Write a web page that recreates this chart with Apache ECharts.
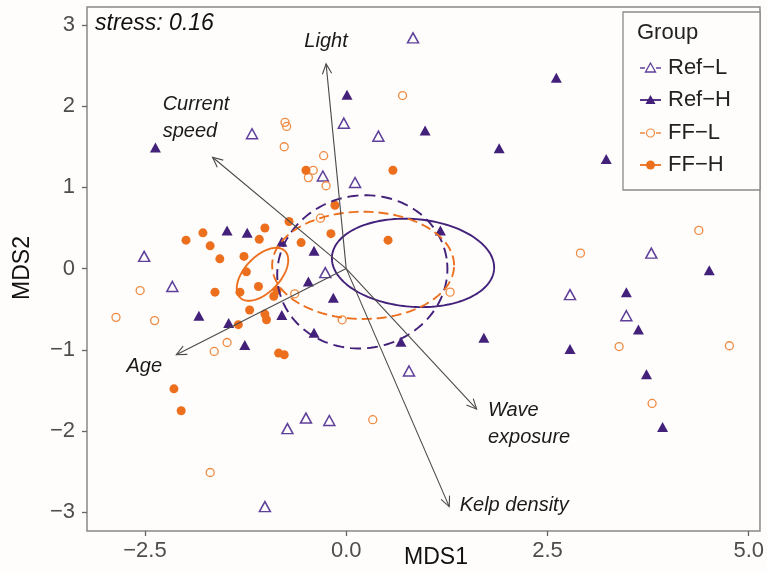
<!DOCTYPE html>
<html><head><meta charset="utf-8">
<script src="https://cdn.jsdelivr.net/npm/echarts@6/dist/echarts.min.js"></script>
<style>html,body{margin:0;padding:0;background:#fefdfb}#c{width:767px;height:572px}</style>
</head><body><div id="c"></div>
<script>
// ---- data ----
const groups = ['Ref-L', 'Ref-H', 'FF-L', 'FF-H'];
const refL = [[0.83,2.84],[-1.17,1.66],[-0.03,1.79],[0.40,1.63],[-0.29,1.14],[0.11,1.06],[-2.51,0.15],[-2.16,-0.22],[-0.26,-0.05],[0.78,-1.26],[2.78,-0.32],[3.79,0.19],[3.48,-0.58],[-0.73,-1.97],[-1.01,-2.93],[-0.50,-1.84],[-0.21,-1.87]];
const refH = [[-2.37,1.49],[0.01,2.14],[0.98,1.70],[1.90,1.48],[2.61,2.35],[3.23,1.35],[-1.48,0.47],[-1.23,0.44],[-0.80,0.33],[-1.83,-0.58],[-1.46,-0.67],[-1.26,-0.94],[-0.80,-0.57],[-0.40,0.22],[-0.47,-0.16],[-0.16,-0.36],[-0.40,-0.79],[1.17,0.47],[0.68,-0.90],[1.71,-0.85],[2.78,-0.99],[4.51,-0.02],[3.48,-0.29],[3.63,-0.75],[3.73,-1.30],[3.93,-1.95]];
const ffL = [[-0.76,1.80],[-0.74,1.75],[-0.77,1.50],[0.70,2.13],[-0.28,1.39],[-0.41,1.21],[-0.47,1.12],[-0.25,1.02],[-0.32,0.62],[1.29,-0.29],[-0.05,-0.63],[4.38,0.47],[2.91,0.19],[3.39,-0.96],[4.76,-0.95],[3.80,-1.66],[-2.56,-0.27],[-2.86,-0.60],[-2.38,-0.64],[-1.64,-1.02],[-1.48,-0.91],[-1.69,-2.51],[0.33,-1.86],[-0.64,-0.31]];
const ffH = [[-1.99,0.35],[-1.78,0.44],[-1.69,0.28],[-1.57,0.12],[-1.01,0.50],[-1.08,0.36],[-1.27,0.15],[-1.24,-0.04],[-1.09,-0.22],[-1.32,-0.29],[-1.63,-0.29],[-0.90,-0.34],[-0.86,-0.27],[-1.20,-0.51],[-1.01,-0.56],[-0.99,-0.63],[-1.34,-0.69],[-0.84,-1.04],[-0.77,-1.06],[-0.71,0.58],[-0.56,0.32],[-0.19,0.43],[-0.14,0.78],[0.52,0.35],[-0.50,1.21],[0.58,1.21],[-2.14,-1.48],[-2.05,-1.75]];

const vectorNames = ['Light', 'Current\nspeed', 'Age', 'Wave\nexposure', 'Kelp density'];
const vectorEnds = [[-0.25,2.52],[-1.66,1.37],[-2.11,-1.06],[1.62,-1.73],[1.28,-2.93]];

const ellipseGroups = ['Ref-L', 'Ref-H', 'FF-L', 'FF-H'];
const ellipseCenters = [[0.20,-0.04],[0.83,0.07],[0.21,0.04],[-1.04,-0.07]];
const ellipseRadii = [[1.06,0.94],[1.01,0.54],[1.13,0.66],[0.40,0.22]];
const ellipseAngles = [9, -4.5, 0, 46];

const xTicks = [-2.5, 0, 2.5, 5];
const yTicks = [-3, -2, -1, 0, 1, 2, 3];
const stressText = 'stress: 0.16';

// ---- layout / style (not data) ----
const vectorLabelAt = [[-0.52,2.79],[-2.28,1.85],[-2.73,-1.21],[1.76,-1.91],[1.41,-2.91]];
const PURPLE = '#43207a', PURPLE_L = '#5e3f9a', ORANGE = '#ec6f1e', ORANGE_L = '#ef8a42';
const ellStyle = [
  {color: PURPLE, dash: [11, 6]},
  {color: PURPLE, dash: null},
  {color: ORANGE, dash: [10, 5]},
  {color: ORANGE, dash: null}
];
const FONT = '"Liberation Sans", Arial, sans-serif';
const minus = v => String(v).replace('-', '\u2212');

const chart = echarts.init(document.getElementById('c'), null, {renderer: 'canvas'});

const legendItems = [];
const legY = [68, 100, 133, 165];
const legDef = [
  {sym: 'tri', fill: false, c: PURPLE_L, dashed: true},
  {sym: 'tri', fill: true, c: PURPLE, dashed: false},
  {sym: 'cir', fill: false, c: ORANGE_L, dashed: true},
  {sym: 'cir', fill: true, c: ORANGE, dashed: false}
];
legendItems.push({type: 'rect', shape: {x: 623, y: 12, width: 137, height: 178}, style: {fill: '#fefdfb', stroke: '#8a8a8a', lineWidth: 1.3}, z: 100});
legendItems.push({type: 'text', x: 637, y: 33, style: {text: 'Group', font: '22px ' + FONT, fill: '#222', textVerticalAlign: 'middle', verticalAlign: 'middle'}, z: 101});
groups.forEach((g, i) => {
  const d = legDef[i], y = legY[i];
  if (d.dashed) {
    legendItems.push({type: 'line', shape: {x1: 640, y1: y, x2: 645, y2: y}, style: {stroke: d.c, lineWidth: 1.5}, z: 101});
    legendItems.push({type: 'line', shape: {x1: 656, y1: y, x2: 661, y2: y}, style: {stroke: d.c, lineWidth: 1.5}, z: 101});
  } else {
    legendItems.push({type: 'line', shape: {x1: 640, y1: y, x2: 661, y2: y}, style: {stroke: d.c, lineWidth: 1.8}, z: 101});
  }
  if (d.sym === 'tri') {
    legendItems.push({type: 'polygon', shape: {points: [[650.5, y - 5], [645.5, y + 4], [655.5, y + 4]]}, style: d.fill ? {fill: d.c} : {fill: '#fefdfb', stroke: d.c, lineWidth: 1.3}, z: 102});
  } else {
    legendItems.push({type: 'circle', shape: {cx: 650.5, cy: y, r: d.fill ? 4.5 : 4}, style: d.fill ? {fill: d.c} : {fill: '#fefdfb', stroke: d.c, lineWidth: 1.2}, z: 102});
  }
  legendItems.push({type: 'text', x: 668, y: y, style: {text: g.replace('-', '\u2212'), font: '22px ' + FONT, fill: '#222', textVerticalAlign: 'middle', verticalAlign: 'middle'}, z: 101});
});

const option = {
  backgroundColor: '#fefdfb',
  animation: false,
  grid: {left: 87, right: 4, top: 7, bottom: 41, show: true, borderColor: '#888', borderWidth: 1.5, backgroundColor: 'transparent'},
  xAxis: {
    type: 'value', min: -3.22, max: 5.14,
    axisLine: {show: false, onZero: false},
    splitLine: {show: false},
    axisTick: {show: true, inside: false, length: 5, lineStyle: {color: '#666', width: 1.3}, customValues: xTicks},
    axisLabel: {customValues: xTicks, formatter: v => minus(v.toFixed(1)), color: '#4d4d4d', fontSize: 22, fontFamily: FONT, margin: 9}
  },
  yAxis: {
    type: 'value', min: -3.23, max: 3.22,
    axisLine: {show: false, onZero: false},
    splitLine: {show: false},
    axisTick: {show: true, inside: false, length: 5, lineStyle: {color: '#666', width: 1.3}, customValues: yTicks},
    axisLabel: {customValues: yTicks, formatter: v => minus(Math.round(v)), color: '#4d4d4d', fontSize: 22, fontFamily: FONT, margin: 12}
  },
  graphic: [
    {type: 'text', x: 436, y: 558, style: {text: 'MDS1', font: '23px ' + FONT, fill: '#111', textAlign: 'center', align: 'center', textVerticalAlign: 'middle', verticalAlign: 'middle'}},
    {type: 'text', x: 23, y: 268, rotation: Math.PI / 2, style: {text: 'MDS2', font: '23px ' + FONT, fill: '#111', textAlign: 'center', align: 'center', textVerticalAlign: 'middle', verticalAlign: 'middle'}},
    {type: 'text', x: 95, y: 24, style: {text: stressText, font: 'italic 23px ' + FONT, fill: '#111', textVerticalAlign: 'middle', verticalAlign: 'middle'}}
  ].concat(legendItems),
  series: [
    {
      type: 'scatter', name: 'Ref-L', data: refL, symbol: 'triangle', symbolSize: [11, 10],
      itemStyle: {color: 'rgba(0,0,0,0)', borderColor: PURPLE_L, borderWidth: 1.5, opacity: 1}, z: 3
    },
    {
      type: 'scatter', name: 'Ref-H', data: refH, symbol: 'triangle', symbolSize: [11, 10],
      itemStyle: {color: PURPLE, opacity: 1}, z: 3
    },
    {
      type: 'scatter', name: 'FF-L', data: ffL, symbol: 'circle', symbolSize: 8,
      itemStyle: {color: 'rgba(0,0,0,0)', borderColor: ORANGE_L, borderWidth: 1.3, opacity: 1}, z: 3
    },
    {
      type: 'scatter', name: 'FF-H', data: ffH, symbol: 'circle', symbolSize: 9,
      itemStyle: {color: ORANGE, opacity: 1}, z: 3
    },
    {
      type: 'custom', name: 'ellipses', clip: true, z: 4,
      data: ellipseCenters.map((c, i) => [c[0], c[1], ellipseRadii[i][0], ellipseRadii[i][1], ellipseAngles[i], i]),
      renderItem: (params, api) => {
        const cx = api.value(0), cy = api.value(1), a = api.value(2), b = api.value(3);
        const ang = api.value(4) * Math.PI / 180, i = api.value(5);
        const pts = [];
        for (let k = 0; k <= 160; k++) {
          const t = k / 160 * 2 * Math.PI;
          const ex = a * Math.cos(t), ey = b * Math.sin(t);
          pts.push(api.coord([cx + ex * Math.cos(ang) - ey * Math.sin(ang), cy + ex * Math.sin(ang) + ey * Math.cos(ang)]));
        }
        return {type: 'polyline', shape: {points: pts}, style: {fill: null, stroke: ellStyle[i].color, lineWidth: 1.9, lineDash: ellStyle[i].dash}};
      }
    },
    {
      type: 'custom', name: 'vectors', clip: false, z: 5,
      data: vectorEnds.map((v, i) => [v[0], v[1], i]),
      renderItem: (params, api) => {
        const i = api.value(2);
        const p0 = api.coord([0, 0]), p1 = api.coord([api.value(0), api.value(1)]);
        const dx = p1[0] - p0[0], dy = p1[1] - p0[1], L = Math.hypot(dx, dy);
        const ux = dx / L, uy = dy / L, h = 11, th = 25 * Math.PI / 180;
        const w = s => [p1[0] - h * (ux * Math.cos(s * th) - uy * Math.sin(s * th)), p1[1] - h * (ux * Math.sin(s * th) + uy * Math.cos(s * th))];
        const lp = api.coord(vectorLabelAt[i]);
        return {
          type: 'group', children: [
            {type: 'line', shape: {x1: p0[0], y1: p0[1], x2: p1[0], y2: p1[1]}, style: {stroke: '#4a4a4a', lineWidth: 1.1}},
            {type: 'polyline', shape: {points: [w(1), p1, w(-1)]}, style: {fill: null, stroke: '#4a4a4a', lineWidth: 1.1}},
            {type: 'text', x: lp[0], y: lp[1], style: {text: vectorNames[i], font: 'italic 20px ' + FONT, fill: '#1a1a1a', lineHeight: 27, textAlign: 'left', align: 'left', textVerticalAlign: 'middle', verticalAlign: 'middle'}}
          ]
        };
      }
    }
  ]
};
chart.setOption(option);
</script>
</body></html>
